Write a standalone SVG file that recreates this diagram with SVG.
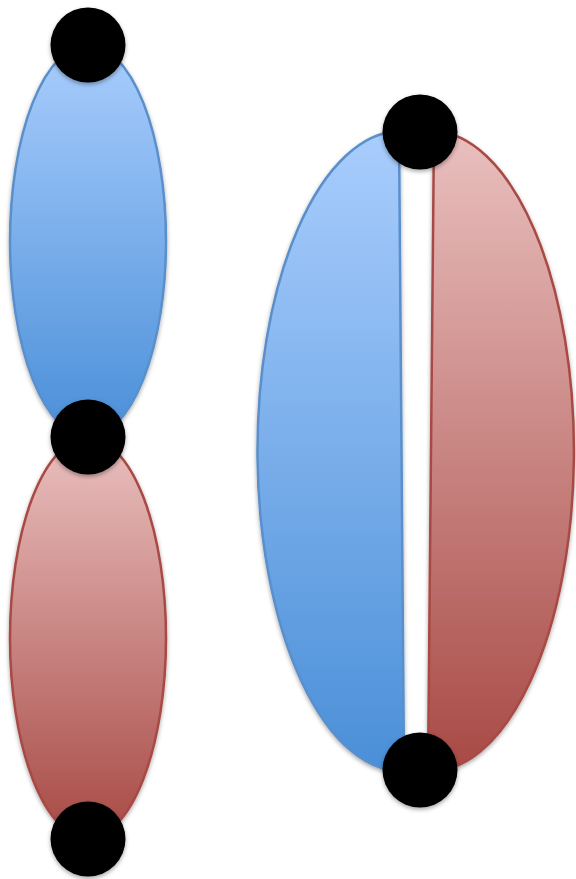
<svg xmlns="http://www.w3.org/2000/svg" width="576" height="879" viewBox="0 0 576 879">
<defs>
<linearGradient id="gBlue" x1="0" y1="0" x2="0" y2="1">
<stop offset="0" stop-color="#a9cdfd"/>
<stop offset="1" stop-color="#4a8fd8"/>
</linearGradient>
<linearGradient id="gRed" x1="0" y1="0" x2="0" y2="1">
<stop offset="0" stop-color="#e9c0bf"/>
<stop offset="1" stop-color="#a84a45"/>
</linearGradient>
<filter id="sh" x="-20%" y="-20%" width="140%" height="140%">
<feDropShadow dx="0" dy="2" stdDeviation="2" flood-color="#000" flood-opacity="0.35"/>
</filter>
</defs>
<style>
.blue{fill:url(#gBlue);stroke:#5a8fcb;stroke-width:2.5;filter:url(#sh)}
.red{fill:url(#gRed);stroke:#a84a45;stroke-width:2.5;filter:url(#sh)}
.dot{fill:#000;filter:url(#sh)}
</style>
<g id="lobes">
<g id="left-blue"><ellipse class="blue" cx="88" cy="241" rx="78" ry="196"/></g>
<g id="left-red"><ellipse class="red" cx="88" cy="638" rx="78" ry="200"/></g>
<g id="right-blue"><path class="blue" d="M399,131 A144 320 0 0 0 404,771 Z"/></g>
<g id="right-red"><path class="red" d="M434,131 A143 320 0 0 1 428,771 Z"/></g>
</g>
<g id="nodes">
<g id="n1"><circle class="dot" cx="88" cy="45" r="37.5"/></g>
<g id="n2"><circle class="dot" cx="88" cy="437" r="37.5"/></g>
<g id="n3"><circle class="dot" cx="88" cy="839" r="37.5"/></g>
<g id="n4"><circle class="dot" cx="420" cy="132" r="37.5"/></g>
<g id="n5"><circle class="dot" cx="420" cy="770" r="37.5"/></g>
</g>
</svg>
